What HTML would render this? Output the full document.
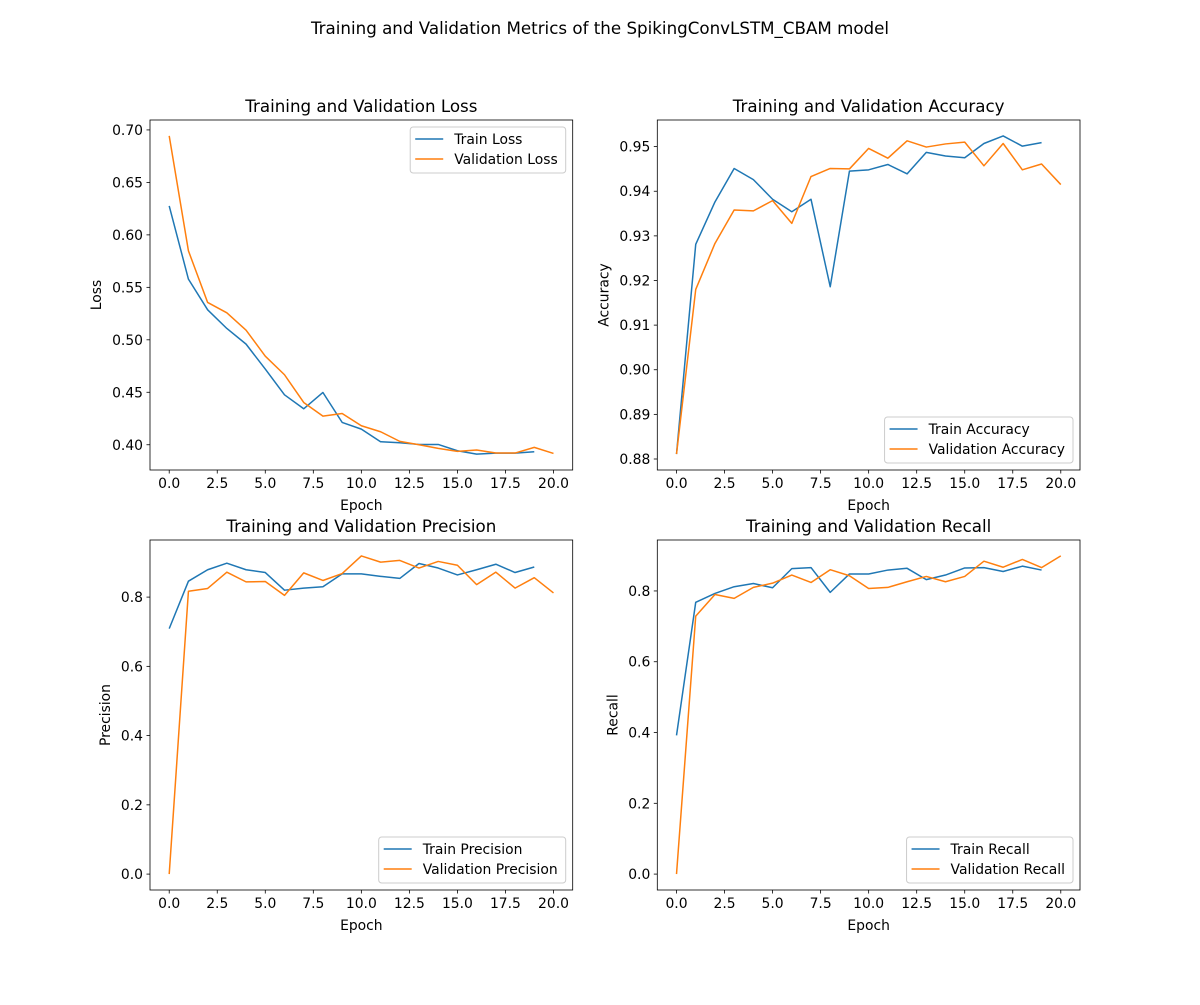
<!DOCTYPE html>
<html><head><meta charset="utf-8"><style>
body{margin:0;background:#fff}
svg{font-family:"DejaVu Sans","Liberation Sans",sans-serif}
</style></head><body>
<svg id="fig" width="1200" height="1000" viewBox="0 0 1200 1000" xmlns="http://www.w3.org/2000/svg">
<rect width="1200" height="1000" fill="#fff"/>
<text x="600" y="34" font-size="16.7" text-anchor="middle">Training and Validation Metrics of the SpikingConvLSTM_CBAM model</text>
</svg>
<script>
const lossTrain=[0.6276,0.5578,0.5286,0.5108,0.4959,0.4721,0.4476,0.4343,0.4498,0.4213,0.4149,0.4029,0.4019,0.4003,0.4003,0.3943,0.3911,0.392,0.392,0.3933];
const lossVal=[0.6943,0.5848,0.5356,0.5257,0.5092,0.4844,0.4667,0.4403,0.4273,0.4298,0.4181,0.4124,0.4032,0.40,0.3965,0.3937,0.395,0.3921,0.3921,0.3975,0.3917];
const accTrain=[0.8811,0.9281,0.9376,0.9451,0.9426,0.9382,0.9354,0.9382,0.9186,0.9445,0.9448,0.946,0.9439,0.9487,0.9479,0.9475,0.9507,0.9524,0.9501,0.9509];
const accVal=[0.8811,0.918,0.9283,0.9358,0.9356,0.9379,0.9328,0.9433,0.9451,0.945,0.9496,0.9474,0.9513,0.9499,0.9506,0.951,0.9457,0.9507,0.9448,0.9461,0.9415];
const precTrain=[0.709,0.846,0.879,0.898,0.879,0.871,0.820,0.826,0.830,0.867,0.867,0.860,0.854,0.897,0.884,0.864,0.879,0.895,0.871,0.887];
const precVal=[0,0.817,0.825,0.872,0.844,0.845,0.805,0.870,0.848,0.868,0.919,0.901,0.906,0.884,0.903,0.892,0.836,0.872,0.826,0.856,0.812];
const recTrain=[0.392,0.768,0.793,0.812,0.821,0.809,0.863,0.866,0.796,0.848,0.848,0.859,0.864,0.832,0.845,0.865,0.866,0.855,0.870,0.859];
const recVal=[0,0.729,0.790,0.779,0.810,0.822,0.845,0.824,0.860,0.843,0.807,0.810,0.826,0.841,0.826,0.841,0.884,0.867,0.889,0.866,0.899];
const xTicks=[0,2.5,5,7.5,10,12.5,15,17.5,20];
const lossTicks=[0.40,0.45,0.50,0.55,0.60,0.65,0.70];
const accTicks=[0.88,0.89,0.90,0.91,0.92,0.93,0.94,0.95];
const prTicks=[0,0.2,0.4,0.6,0.8];

const NS="http://www.w3.org/2000/svg";
const svg=document.getElementById('fig');
function mk(tag,attrs,parent){const e=document.createElementNS(NS,tag);for(const k in attrs)e.setAttribute(k,attrs[k]);(parent||svg).appendChild(e);return e;}

const panels=[
 {name:'loss',x0:150,y0:120,title:'Training and Validation Loss',ylabel:'Loss',tr:lossTrain,va:lossVal,ticks:lossTicks,dec:2,labels:['Train Loss','Validation Loss'],loc:'upper'},
 {name:'accuracy',x0:657.3,y0:120,title:'Training and Validation Accuracy',ylabel:'Accuracy',tr:accTrain,va:accVal,ticks:accTicks,dec:2,labels:['Train Accuracy','Validation Accuracy'],loc:'lower'},
 {name:'precision',x0:150,y0:540,title:'Training and Validation Precision',ylabel:'Precision',tr:precTrain,va:precVal,ticks:prTicks,dec:1,labels:['Train Precision','Validation Precision'],loc:'lower'},
 {name:'recall',x0:657.3,y0:540,title:'Training and Validation Recall',ylabel:'Recall',tr:recTrain,va:recVal,ticks:prTicks,dec:1,labels:['Train Recall','Validation Recall'],loc:'lower'}
];
const W=422.7,H=350;
panels.forEach(p=>{
  const g=mk('g',{});
  
  
  const all=p.tr.concat(p.va);
  const mn=Math.min(...all),mx=Math.max(...all),m=(mx-mn)*0.05;
  const ymin=mn-m,ymax=mx+m;
  const xmin=-1,xmax=21;
  const sx=v=>p.x0+(v-xmin)/(xmax-xmin)*W;
  const sy=v=>p.y0+H-(v-ymin)/(ymax-ymin)*H;
  [[p.tr,'#1f77b4','train'],[p.va,'#ff7f0e','validation']].forEach(([d,c,n])=>{
    const pl=mk('polyline',{points:d.map((v,i)=>sx(i).toFixed(2)+','+sy(v).toFixed(2)).join(' '),fill:'none',stroke:c,'stroke-width':1.5,'stroke-linejoin':'round'},g);
    
    
  });
  const fr=mk('rect',{x:p.x0,y:p.y0,width:W,height:H,fill:'none',stroke:'#000','stroke-width':0.8},g);
  
  
  xTicks.forEach(t=>{
    const x=sx(t);
    mk('line',{x1:x,x2:x,y1:p.y0+H,y2:p.y0+H+3.5,stroke:'#000','stroke-width':0.8},g);
    const tx=mk('text',{x:x,y:p.y0+H+18,'font-size':13.9,'text-anchor':'middle'},g);
    tx.textContent=t.toFixed(1);
    
    
  });
  p.ticks.forEach(t=>{
    const y=sy(t);
    mk('line',{x1:p.x0-3.5,x2:p.x0,y1:y,y2:y,stroke:'#000','stroke-width':0.8},g);
    const tx=mk('text',{x:p.x0-7,y:y+5,'font-size':13.9,'text-anchor':'end'},g);
    tx.textContent=t.toFixed(p.dec);
    
    
  });
  const xl=mk('text',{x:p.x0+W/2,y:p.y0+H+40,'font-size':13.9,'text-anchor':'middle'},g);
  xl.textContent='Epoch';
  
  
  const yw=p.dec===2?47:38;
  const yx=p.x0-yw-2;
  const yl=mk('text',{x:yx,y:p.y0+H/2,'font-size':13.9,'text-anchor':'middle',transform:`rotate(-90 ${yx} ${p.y0+H/2})`},g);
  yl.textContent=p.ylabel;
  
  
  const tt=mk('text',{x:p.x0+W/2,y:p.y0-8,'font-size':16.7,'text-anchor':'middle'},g);
  tt.textContent=p.title;
  
  
  const lg=mk('g',{},g);
  
  
  const tmp=mk('text',{'font-size':13.9},lg);tmp.textContent=p.labels[1];
  const tw=tmp.getComputedTextLength();lg.removeChild(tmp);
  const bw=tw+52, bh=46;
  const bx=p.x0+W-7-bw;
  const by=p.loc==='upper'?p.y0+7:p.y0+H-7-bh;
  mk('rect',{x:bx,y:by,width:bw,height:bh,rx:3,fill:'#fff','fill-opacity':0.8,stroke:'#ccc','stroke-width':1},lg);
  ['#1f77b4','#ff7f0e'].forEach((c,i)=>{
    const cy=by+12+i*20;
    mk('line',{x1:bx+5,x2:bx+33,y1:cy,y2:cy,stroke:c,'stroke-width':1.5},lg);
    const t=mk('text',{x:bx+44,y:cy+5,'font-size':13.9},lg);
    t.textContent=p.labels[i];
    
    
  });
});
</script>
</body></html>
